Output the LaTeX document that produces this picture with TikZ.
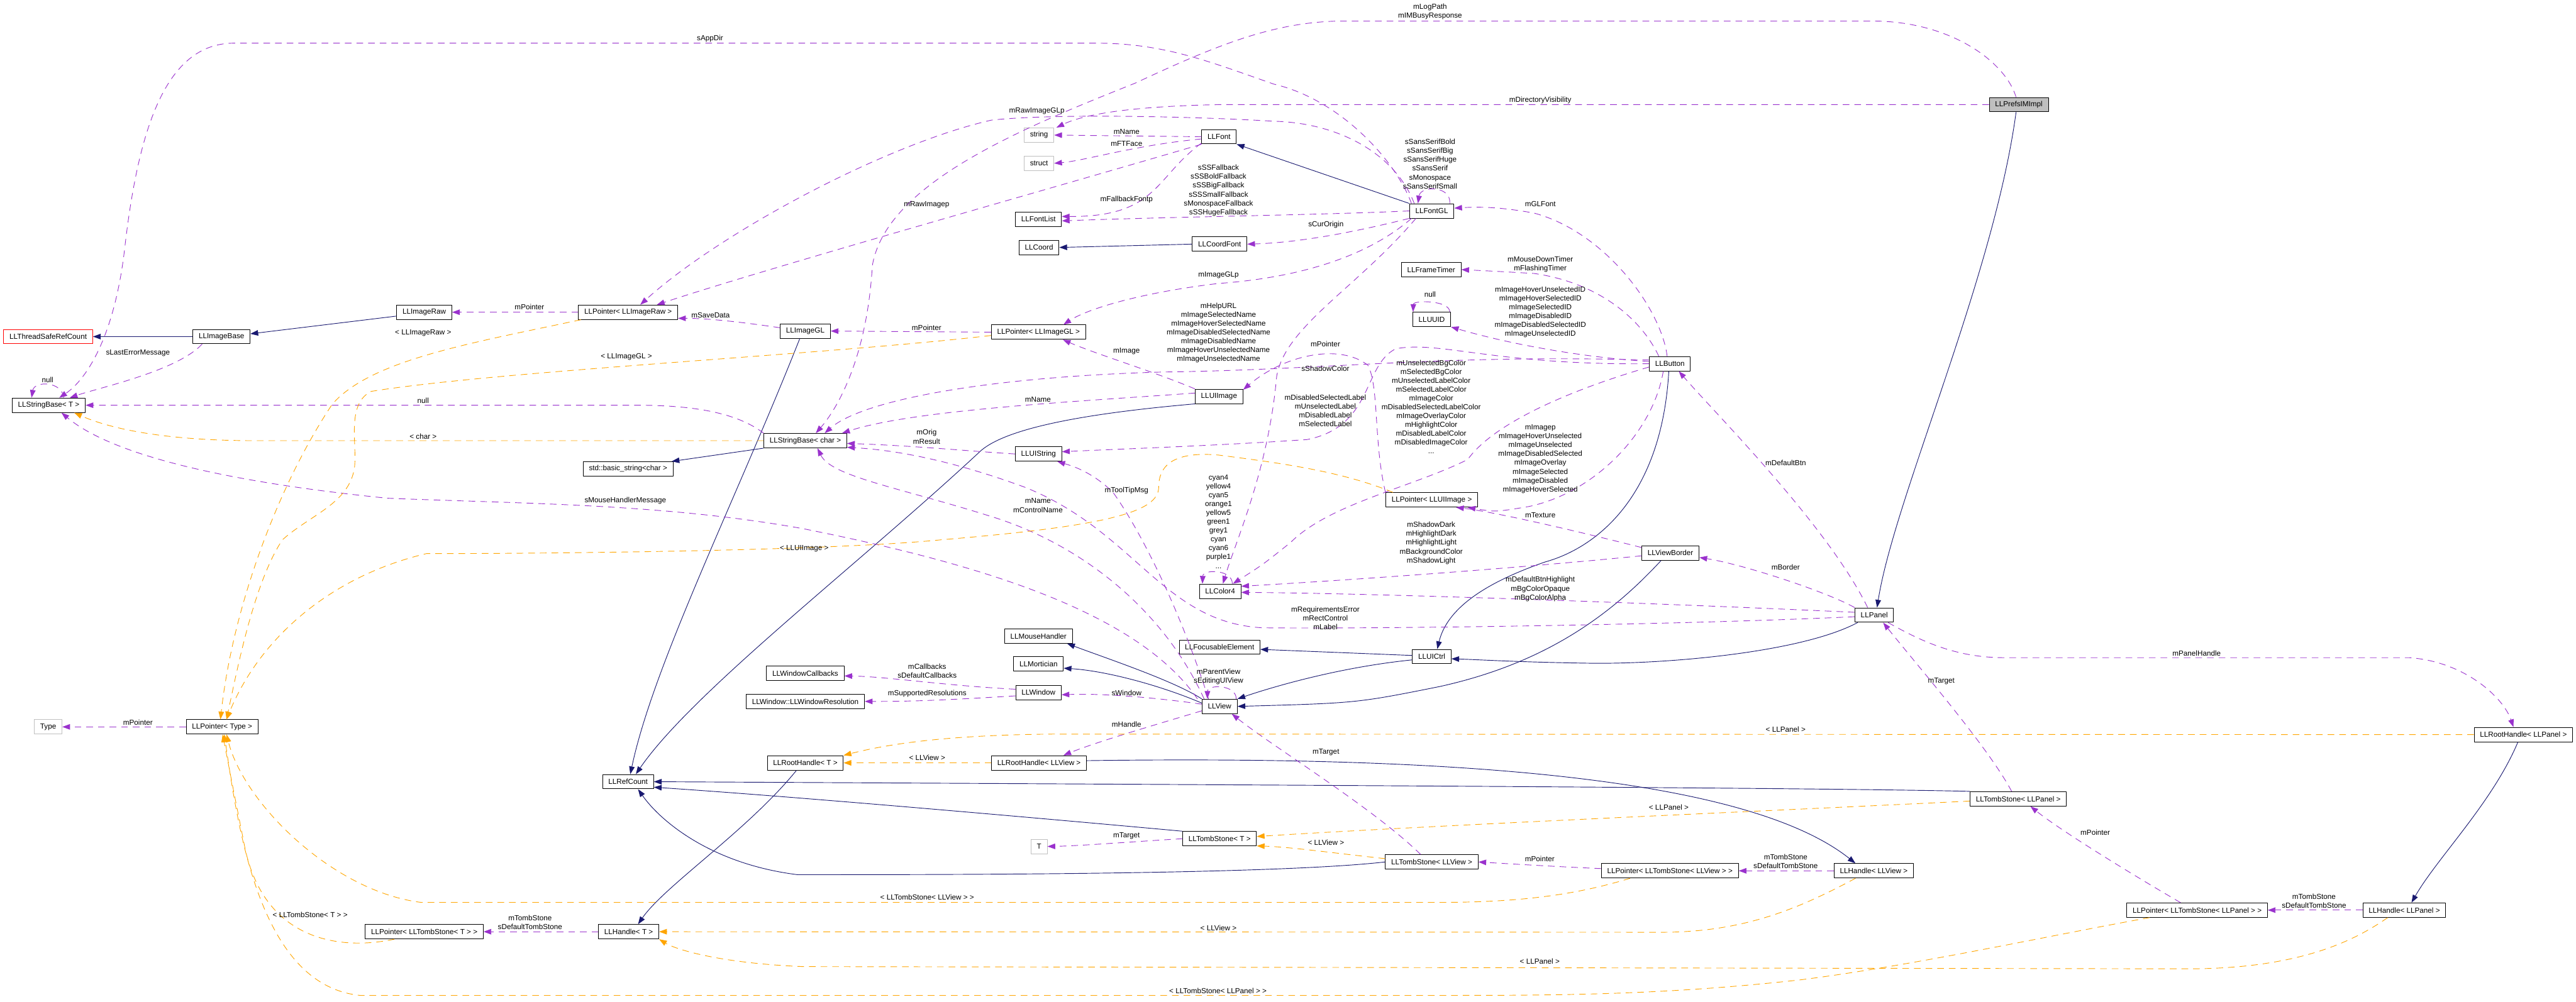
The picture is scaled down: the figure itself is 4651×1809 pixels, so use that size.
\documentclass[tikz,border=0pt]{standalone}
\usepackage{fontspec}
\setmainfont{Liberation Sans}
\usepackage{xcolor}
\definecolor{dxblue}{HTML}{191970}
\definecolor{dxpurple}{HTML}{9A32CD}
\definecolor{dxorange}{HTML}{FFA500}
\definecolor{dxgray}{HTML}{BFBFBF}
\definecolor{dxred}{HTML}{FF0000}
\usepackage{tikz}
\usetikzlibrary{arrows.meta,positioning}
\newcommand{\dxfont}{\fontsize{13.3}{16}\selectfont}
\tikzset{
  >={Triangle[length=14pt,width=10pt]},
  every picture/.style={line join=round},
  cls/.style={draw=black, line width=1.1pt, fill=white, minimum height=26pt,
    inner xsep=10.5pt, inner ysep=0pt, font=\dxfont},
  undoc/.style={cls, draw=dxgray},
  lbl/.style={font=\dxfont, inner sep=0pt, align=center},
  inh/.style={dxblue, line width=1.05pt, ->},
  use/.style={dxpurple, line width=1.05pt, dash pattern=on 12pt off 9pt, ->},
  tmpl/.style={dxorange, line width=1.05pt, dash pattern=on 12pt off 9pt, ->},
}

\begin{document}
\begin{tikzpicture}[x=1pt, y=-1pt]
\useasboundingbox (0,0) rectangle (4651,1809);

% ------------------------------------------------------------------ classes
\node[cls, fill=dxgray] (prefs) at (3645,189) {LLPrefsIMImpl};
\node[cls, draw=dxred] (tsrc) at (87,608) {LLThreadSafeRefCount};
\node[cls] (imgbase) at (400,608) {LLImageBase};
\node[cls] (imgraw) at (766,564) {LLImageRaw};
\node[cls] (ptrraw) at (1134,564) {LLPointer< LLImageRaw >};
\node[cls] (imggl) at (1454,598) {LLImageGL};
\node[cls] (ptrgl) at (1875,600) {LLPointer< LLImageGL >};
\node[undoc] (str) at (1876,244) {string};
\node[undoc] (strct) at (1876,295) {struct};
\node[cls] (font) at (2201,247) {LLFont};
\node[cls] (fontlist) at (1875,396) {LLFontList};
\node[cls] (coord) at (1876,447) {LLCoord};
\node[cls] (coordfont) at (2202,441) {LLCoordFont};
\node[cls] (fontgl) at (2585,381) {LLFontGL};
\node[cls] (frametimer) at (2584,487) {LLFrameTimer};
\node[cls] (uuid) at (2585,577) {LLUUID};
\node[cls] (sbT) at (88,732) {LLStringBase< T >};
\node[cls] (basicstr) at (1134,847) {std::basic\_string<char >};
\node[cls] (sbchar) at (1454,796) {LLStringBase< char >};
\node[cls] (uiimage) at (2201,716) {LLUIImage};
\node[cls] (uistring) at (1875,820) {LLUIString};
\node[cls] (color4) at (2203,1068) {LLColor4};
\node[cls] (mouse) at (1875,1149) {LLMouseHandler};
\node[cls] (focus) at (2202,1169) {LLFocusableElement};
\node[cls] (mortician) at (1875,1199) {LLMortician};
\node[cls] (wincb) at (1454,1216) {LLWindowCallbacks};
\node[cls] (button) at (3015,657) {LLButton};
\node[cls] (ptrui) at (2585,903) {LLPointer< LLUIImage >};
\node[cls] (border) at (3016,999) {LLViewBorder};
\node[cls] (panel) at (3384,1111) {LLPanel};
\node[cls] (uictrl) at (2585,1186) {LLUICtrl};
\node[cls] (window) at (1875,1251) {LLWindow};
\node[cls] (winres) at (1454,1267) {LLWindow::LLWindowResolution};
\node[cls] (view) at (2202,1276) {LLView};
\node[cls] (rhT) at (1454,1378) {LLRootHandle< T >};
\node[cls] (rhview) at (1876,1378) {LLRootHandle< LLView >};
\node[cls] (refcount) at (1134,1412) {LLRefCount};
\node[cls] (tombT) at (2202,1515) {LLTombStone< T >};
\node[undoc] (T) at (1876,1529) {T};
\node[undoc] (type) at (87,1313) {Type};
\node[cls] (ptrtype) at (401,1313) {LLPointer< Type >};
\node[cls] (ptrtombT) at (766,1683) {LLPointer< LLTombStone< T > >};
\node[cls] (handleT) at (1135,1683) {LLHandle< T >};
\node[cls] (tombview) at (2585,1557) {LLTombStone< LLView >};
\node[cls] (ptrtombview) at (3015,1573) {LLPointer< LLTombStone< LLView > >};
\node[cls] (handleview) at (3383,1573) {LLHandle< LLView >};
\node[cls] (rhpanel) at (4556,1327) {LLRootHandle< LLPanel >};
\node[cls] (tombpanel) at (3644,1443) {LLTombStone< LLPanel >};
\node[cls] (ptrtombpanel) at (3967,1644) {LLPointer< LLTombStone< LLPanel > >};
\node[cls] (handlepanel) at (4341,1644) {LLHandle< LLPanel >};

% ------------------------------------------------------------------ inheritance
\draw[inh] (imgbase.west) -- (tsrc.east);
\draw[inh] ([yshift=-7pt]imgraw.west) -- ([yshift=5pt]imgbase.east);
\draw[inh] (fontgl.north west) -- (font.south east);
\draw[inh] (coordfont.west) -- (coord.east);
\draw[inh] ([xshift=-10pt]imggl.south) .. controls (1330,900) and (1180,1200) .. ([xshift=4pt]refcount.north);
\draw[inh] (uiimage.south west) .. controls (1980,745) and (1820,770) .. (1770,815)
  .. controls (1550,1020) and (1250,1250) .. ([xshift=14pt]refcount.north);
\draw[inh] (sbchar.south west) -- ([xshift=-3pt]basicstr.north east);
\draw[inh] (tombT.north west) .. controls (1900,1480) and (1450,1440) .. ([yshift=-10pt]refcount.east);
\draw[inh] (tombpanel.north west) .. controls (3300,1423) and (2300,1418) .. (refcount.east);
\draw[inh] (tombview.west) .. controls (2300,1580) and (1700,1580) .. (1440,1580)
  .. controls (1280,1560) and (1190,1480) .. ([xshift=18pt]refcount.south);
\draw[inh] ([xshift=-16pt]rhT.south) .. controls (1350,1500) and (1200,1600) .. ([xshift=17pt]handleT.north);
\draw[inh] ([yshift=4pt]rhview.east) .. controls (2600,1365) and (3150,1400) .. ([xshift=-33pt]handleview.north);
\draw[inh] ([xshift=-10pt]rhpanel.south) .. controls (4500,1450) and (4400,1550) .. ([xshift=13pt]handlepanel.north);
\draw[inh] ([xshift=-5pt]prefs.south) .. controls (3600,500) and (3420,900) .. ([xshift=5pt]panel.north);
\draw[inh] ([xshift=-2pt]button.south) .. controls (3000,900) and (2880,990) .. (2790,1015)
  .. controls (2660,1060) and (2610,1110) .. ([xshift=10pt]uictrl.north);
\draw[inh] ([xshift=-30pt]panel.south) .. controls (3250,1180) and (3000,1200) .. (2870,1198)
  .. controls (2740,1196) and (2680,1192) .. ([yshift=-4pt]uictrl.east);
\draw[inh] ([yshift=2pt]uictrl.west) -- ([yshift=-4pt]focus.east);
\draw[inh] ([yshift=-6pt]uictrl.west) .. controls (2420,1205) and (2300,1240) .. (view.north east);
\draw[inh] ([xshift=-17pt]border.south) .. controls (2900,1120) and (2780,1200) .. (2600,1240)
  .. controls (2450,1270) .. (view.east);
\draw[inh] (view.north west) .. controls (2120,1230) and (2000,1190) .. ([xshift=-10pt]mouse.south east);
\draw[inh] ([yshift=6pt]view.west) .. controls (2100,1240) and (2000,1212) .. ([yshift=-8pt]mortician.east);

% ------------------------------------------------------------------ members, top
\draw[use] ([xshift=-5pt]prefs.north) .. controls (3620,110) and (3520,38) .. (3380,38) -- (2420,38)
  .. controls (2300,40) and (2200,80) .. (2050,150) .. controls (1850,230) and (1600,330) .. (1575,480)
  .. controls (1565,650) and (1510,740) .. ([xshift=19pt]sbchar.north);
\draw[use] (prefs.west) -- (2200,189) .. controls (2050,192) and (1960,205) .. ([xshift=4pt]str.north east);
\draw[use] ([xshift=4pt]fontgl.north west) .. controls (2520,290) and (2420,180) .. (2300,152)
  .. controls (2180,110) and (2100,78) .. (1979,78) -- (420,78)
  .. controls (300,80) and (250,230) .. (225,450) .. controls (205,620) and (150,690) .. ([xshift=19pt]sbT.north);
\draw[use] ([xshift=9pt]fontgl.north west) .. controls (2520,280) and (2420,222) .. (2300,219)
  .. controls (2150,210) and (1900,205) .. (1790,217) .. controls (1600,260) and (1300,420) .. ([xshift=22pt]ptrraw.north);
\draw[use] (font.south west) .. controls (1900,340) and (1400,480) .. ([xshift=52pt]ptrraw.north);
\draw[use] (font.west) -- (str.east);
\draw[use] ([yshift=-4pt]font.west) .. controls (2050,262) and (1960,290) .. (strct.east);
\draw[use] (font.-160) .. controls (2085,320) and (2090,392) .. ([yshift=5pt]fontlist.east);
\draw[use] (fontgl.west) .. controls (2400,388) and (2100,392) .. ([yshift=-3pt]fontlist.east);
\draw[use] ([xshift=-8pt]fontgl.north east) .. controls (2620,335) and (2565,335) .. ([xshift=-25pt]fontgl.north);
\draw[use] (fontgl.south west) .. controls (2450,418) and (2350,438) .. (coordfont.east);
\draw[use] ([xshift=4pt]fontgl.south west) .. controls (2450,480) and (2300,505) .. (2200,512)
  .. controls (2050,530) and (1960,560) .. ([xshift=45pt]ptrgl.north);
\draw[use] ([xshift=12pt]fontgl.south west) .. controls (2450,520) and (2320,590) .. (2305,680)
  .. controls (2290,850) and (2230,980) .. ([xshift=5pt]color4.north);

% ------------------------------------------------------------------ members, images and strings
\draw[use] (ptrraw.west) -- (imgraw.east);
\draw[use] ([yshift=6pt]imggl.west) .. controls (1340,582) and (1280,575) .. ([yshift=-11pt]ptrraw.east);
\draw[use] (ptrgl.west) -- (imggl.east);
\draw[use] (uiimage.north west) .. controls (2080,670) and (1980,640) .. ([xshift=44pt]ptrgl.south);
\draw[use] ([xshift=-35pt]imgbase.south) .. controls (320,670) and (180,700) .. ([xshift=38pt]sbT.north);
\draw[use] ([xshift=27pt]sbT.north) .. controls (112,688) and (62,688) .. ([xshift=-31pt]sbT.north);
\draw[use] (sbchar.north west) .. controls (1330,745) and (1250,732) .. (1150,732) -- (sbT.east);
\draw[use] ([xshift=-40pt]view.north) .. controls (2050,1100) and (1750,1015) .. (1450,955)
  .. controls (1200,910) and (950,910) .. (700,900) .. controls (400,870) and (200,820) .. ([xshift=23pt]sbT.south);
\draw[use] ([yshift=6pt]uiimage.west) .. controls (1950,725) and (1650,740) .. ([xshift=-9pt]sbchar.north east);
\draw[use] (button.170) .. controls (2600,640) and (2400,668) .. (2100,672)
  .. controls (1800,680) and (1560,720) .. ([xshift=35pt]sbchar.north);
\draw[use] (uistring.west) .. controls (1750,815) and (1650,805) .. ([yshift=-5pt]sbchar.east);
\draw[use] ([xshift=-28pt]view.north) .. controls (2100,1100) and (1950,980) .. (1780,930)
  .. controls (1620,880) and (1500,860) .. ([xshift=22pt]sbchar.south);
\draw[use] ([xshift=-20pt]view.north) .. controls (2130,1100) and (2060,960) .. (2010,890)
  .. controls (1970,850) and (1930,840) .. ([xshift=34pt]uistring.south);
\draw[use] ([yshift=-3pt]panel.west) .. controls (3000,1130) and (2450,1136) .. (2280,1134)
  .. controls (2100,1125) and (2050,960) .. (1850,880) .. controls (1700,825) and (1600,812) .. ([yshift=-12pt]sbchar.east);

% ------------------------------------------------------------------ members, button and panel
\draw[use] (button.west) .. controls (2700,660) and (2600,615) .. (2520,630)
  .. controls (2460,660) and (2480,770) .. (2360,794) .. controls (2200,805) and (2000,812) .. ([yshift=4pt]uistring.east);
\draw[use] ([xshift=-5pt]button.north) .. controls (3000,560) and (2900,420) .. (2770,385)
  .. controls (2700,372) and (2660,374) .. ([yshift=5pt]fontgl.east);
\draw[use] ([xshift=-20pt]button.north) .. controls (2960,570) and (2880,510) .. (2770,494)
  .. controls (2700,490) .. (frametimer.east);
\draw[use] ([yshift=4pt]button.west) .. controls (2850,645) and (2720,620) .. (uuid.south east);
\draw[use] ([xshift=-2pt]uuid.north east) .. controls (2617,542) and (2552,542) .. ([xshift=1pt]uuid.north west);
\draw[use] ([yshift=-6pt]button.west) .. controls (2850,700) and (2700,760) .. (2650,830)
  .. controls (2550,880) and (2400,910) .. (2330,980) .. controls (2280,1020) .. ([xshift=23pt]color4.north);
\draw[use] (ptrui.north west) .. controls (2480,800) and (2490,700) .. (2470,660)
  .. controls (2420,620) and (2320,640) .. ([yshift=12pt]uiimage.east);
\draw[use] ([yshift=10pt]border.west) .. controls (2850,960) and (2700,925) .. ([xshift=44pt]ptrui.south);
\draw[use] ([xshift=-12pt]button.south) .. controls (2985,780) and (2880,890) .. (2760,915)
  .. controls (2700,925) .. ([xshift=65pt]ptrui.south);
\draw[use] ([xshift=-12pt]panel.north) .. controls (3300,950) and (3100,750) .. ([xshift=16pt]button.south);
\draw[use] (panel.north west) .. controls (3300,1070) and (3150,1020) .. ([yshift=-8pt]border.east);
\draw[use] ([yshift=-5pt]border.west) .. controls (2700,1030) and (2400,1050) .. ([yshift=9pt]color4.east);
\draw[use] ([yshift=5pt]panel.west) .. controls (3000,1090) and (2500,1072) .. ([yshift=-2pt]color4.east);
\draw[use] ([xshift=22pt]color4.north) .. controls (2225,1028) and (2172,1028) .. ([xshift=-32pt]color4.north);
\draw[use] ([xshift=25pt]panel.south) .. controls (3480,1165) and (3540,1188) .. (3620,1188) -- (4350,1188)
  .. controls (4450,1195) and (4520,1260) .. ([xshift=-18pt]rhpanel.north);
\draw[use] ([xshift=-12pt]tombpanel.north) .. controls (3590,1350) and (3460,1200) .. ([xshift=16pt]panel.south);

% ------------------------------------------------------------------ members, view and handles
\draw[use] ([yshift=4pt]view.west) .. controls (2100,1262) and (2000,1252) .. ([yshift=-4pt]window.east);
\draw[use] ([yshift=6pt]window.west) .. controls (1700,1238) and (1600,1222) .. ([yshift=-5pt]wincb.east);
\draw[use] ([yshift=-6pt]window.west) .. controls (1700,1265) and (1650,1267) .. (winres.east);
\draw[use] ([xshift=30pt]view.north) .. controls (2232,1236) and (2180,1236) .. ([xshift=-22pt]view.north);
\draw[use] ([yshift=-8pt]view.west) .. controls (2100,1305) and (1980,1340) .. ([xshift=44pt]rhview.north);
\draw[use] ([xshift=-20pt]tombview.north) .. controls (2480,1460) and (2300,1350) .. ([xshift=22pt]view.south);
\draw[use] (tombT.west) .. controls (2050,1520) and (1950,1528) .. (T.east);
\draw[use] ([yshift=4pt]ptrtombview.west) .. controls (2800,1565) and (2720,1560) .. (tombview.east);
\draw[use] (handleview.west) -- (ptrtombview.east);
\draw[use] (handleT.west) -- (ptrtombT.east);
\draw[use] (ptrtype.west) -- (type.east);
\draw[use] ([xshift=-30pt]ptrtombpanel.north) .. controls (3850,1580) and (3720,1500) .. ([xshift=22pt]tombpanel.south);
\draw[use] (handlepanel.west) -- (ptrtombpanel.east);

% ------------------------------------------------------------------ template instances
\draw[tmpl] ([xshift=-70pt]ptrui.north) .. controls (2420,850) and (2300,835) .. (2200,822)
  .. controls (2120,815) and (2092,840) .. (2092,880) .. controls (2092,925) and (2000,950) .. (1700,975)
  .. controls (1500,995) and (1000,1000) .. (770,1000) .. controls (600,1040) and (470,1150) .. ([xshift=8pt]ptrtype.north);
\draw[tmpl] ([xshift=5pt]ptrraw.south west) .. controls (850,620) and (670,650) .. (600,730)
  .. controls (500,880) and (420,1100) .. ([xshift=-3pt]ptrtype.north);
\draw[tmpl] ([yshift=-6pt]ptrgl.west) .. controls (1500,640) and (900,670) .. (670,707)
  .. controls (625,730) and (645,800) .. (640,845) .. controls (630,910) and (560,930) .. (510,975)
  .. controls (460,1050) and (430,1200) .. ([xshift=8pt]ptrtype.north);
\draw[tmpl] (sbchar.west) -- (460,796) .. controls (300,796) and (200,775) .. ([xshift=46pt]sbT.south);
\draw[tmpl] (rhview.west) -- (rhT.east);
\draw[tmpl] (rhpanel.west) -- (1900,1326) .. controls (1700,1328) and (1600,1345) .. (rhT.north east);
\draw[tmpl] ([yshift=6pt]tombview.west) .. controls (2400,1540) and (2330,1530) .. ([yshift=-13pt]tombT.east);
\draw[tmpl] ([yshift=-4pt]tombpanel.west) .. controls (3300,1460) and (2600,1490) .. ([yshift=4pt]tombT.east);
\draw[tmpl] ([xshift=-33pt]handleview.south) .. controls (3250,1640) and (3150,1684) .. (3000,1684) -- (handleT.east);
\draw[tmpl] ([xshift=-30pt]handlepanel.south) .. controls (4250,1700) and (4150,1750) .. (3950,1750) -- (1450,1746)
  .. controls (1300,1740) and (1220,1715) .. (handleT.south east);
\draw[tmpl] ([xshift=-54pt]ptrtombT.south) .. controls (600,1720) and (470,1690) .. (440,1520)
  .. controls (420,1420) .. ([xshift=1pt]ptrtype.south);
\draw[tmpl] ([xshift=-72pt]ptrtombview.south) .. controls (2850,1615) and (2750,1630) .. (2600,1630) -- (760,1630)
  .. controls (600,1610) and (440,1450) .. ([xshift=8pt]ptrtype.south);
\draw[tmpl] ([xshift=-86pt]ptrtombpanel.south) .. controls (3700,1690) and (3450,1745) .. (3250,1770)
  .. controls (3000,1798) and (2800,1798) .. (2600,1798) -- (650,1798)
  .. controls (470,1780) and (430,1500) .. ([xshift=4pt]ptrtype.south);

% ------------------------------------------------------------------ edge labels
\node[lbl] (l1) at (2582,21) {mLogPath\\mIMBusyResponse};
\node[lbl] (l2) at (2781,181) {mDirectoryVisibility};
\node[lbl] (l3) at (1282,70) {sAppDir};
\node[lbl] (l4) at (1872,200) {mRawImageGLp};
\node[lbl] (l5) at (2034,238) {mName};
\node[lbl] (l6) at (2034,260) {mFTFace};
\node[lbl] (l7) at (1673,370) {mRawImagep};
\node[lbl] (l8) at (2034,360) {mFallbackFontp};
\node[lbl] (l9) at (2200,344) {sSSFallback\\sSSBoldFallback\\sSSBigFallback\\sSSSmallFallback\\sMonospaceFallback\\sSSHugeFallback};
\node[lbl] (l10) at (2582,296) {sSansSerifBold\\sSansSerifBig\\sSansSerifHuge\\sSansSerif\\sMonospace\\sSansSerifSmall};
\node[lbl] (l11) at (2781,368) {mGLFont};
\node[lbl] (l12) at (2394,406) {sCurOrigin};
\node[lbl] (l13) at (2200,497) {mImageGLp};
\node[lbl] (l14) at (2781,477) {mMouseDownTimer\\mFlashingTimer};
\node[lbl] (l15) at (2781,564) {mImageHoverUnselectedID\\mImageHoverSelectedID\\mImageSelectedID\\mImageDisabledID\\mImageDisabledSelectedID\\mImageUnselectedID};
\node[lbl] (l16) at (2582,532) {null};
\node[lbl] (l17) at (1283,569) {mSaveData};
\node[lbl] (l18) at (956,555) {mPointer};
\node[lbl] (l19) at (1673,592) {mPointer};
\node[lbl] (l20) at (764,601) {< LLImageRaw >};
\node[lbl] (l21) at (2200,601) {mHelpURL\\mImageSelectedName\\mImageHoverSelectedName\\mImageDisabledSelectedName\\mImageDisabledName\\mImageHoverUnselectedName\\mImageUnselectedName};
\node[lbl] (l22) at (249,638) {sLastErrorMessage};
\node[lbl] (l23) at (86,686) {null};
\node[lbl] (l24) at (1131,645) {< LLImageGL >};
\node[lbl] (l25) at (2393,621) {mPointer};
\node[lbl] (l26) at (2393,666) {sShadowColor};
\node[lbl] (l27) at (2034,634) {mImage};
\node[lbl] (l28) at (1874,722) {mName};
\node[lbl] (l29) at (2393,742) {mDisabledSelectedLabel\\mUnselectedLabel\\mDisabledLabel\\mSelectedLabel};
\node[lbl] (l30) at (764,724) {null};
\node[lbl] (l31) at (2584,735) {mUnselectedBgColor\\mSelectedBgColor\\mUnselectedLabelColor\\mSelectedLabelColor\\mImageColor\\mDisabledSelectedLabelColor\\mImageOverlayColor\\mHighlightColor\\mDisabledLabelColor\\mDisabledImageColor\\...};
\node[lbl] (l32) at (2781,829) {mImagep\\mImageHoverUnselected\\mImageUnselected\\mImageDisabledSelected\\mImageOverlay\\mImageSelected\\mImageDisabled\\mImageHoverSelected};
\node[lbl] (l33) at (764,788) {< char >};
\node[lbl] (l34) at (1673,789) {mOrig\\mResult};
\node[lbl] (l35) at (3224,836) {mDefaultBtn};
\node[lbl] (l36) at (2034,886) {mToolTipMsg};
\node[lbl] (l37) at (1874,913) {mName\\mControlName};
\node[lbl] (l38) at (1129,904) {sMouseHandlerMessage};
\node[lbl] (l39) at (2200,942) {cyan4\\yellow4\\cyan5\\orange1\\yellow5\\green1\\grey1\\cyan\\cyan6\\purple1\\...};
\node[lbl] (l40) at (2781,931) {mTexture};
\node[lbl] (l41) at (2584,981) {mShadowDark\\mHighlightDark\\mHighlightLight\\mBackgroundColor\\mShadowLight};
\node[lbl] (l42) at (1452,991) {< LLUIImage >};
\node[lbl] (l43) at (3224,1025) {mBorder};
\node[lbl] (l44) at (2781,1064) {mDefaultBtnHighlight\\mBgColorOpaque\\mBgColorAlpha};
\node[lbl] (l45) at (2393,1117) {mRequirementsError\\mRectControl\\mLabel};
\node[lbl] (l46) at (3966,1180) {mPanelHandle};
\node[lbl] (l47) at (1674,1212) {mCallbacks\\sDefaultCallbacks};
\node[lbl] (l48) at (2200,1222) {mParentView\\sEditingUIView};
\node[lbl] (l49) at (3505,1230) {mTarget};
\node[lbl] (l50) at (2034,1252) {sWindow};
\node[lbl] (l51) at (1674,1253) {mSupportedResolutions};
\node[lbl] (l52) at (249,1305) {mPointer};
\node[lbl] (l53) at (2034,1308) {mHandle};
\node[lbl] (l54) at (3224,1318) {< LLPanel >};
\node[lbl] (l55) at (2394,1359) {mTarget};
\node[lbl] (l56) at (1674,1369) {< LLView >};
\node[lbl] (l57) at (3013,1458) {< LLPanel >};
\node[lbl] (l58) at (3783,1504) {mPointer};
\node[lbl] (l59) at (2034,1510) {mTarget};
\node[lbl] (l60) at (2394,1522) {< LLView >};
\node[lbl] (l61) at (3224,1556) {mTombStone\\sDefaultTombStone};
\node[lbl] (l62) at (2780,1551) {mPointer};
\node[lbl] (l63) at (4178,1627) {mTombStone\\sDefaultTombStone};
\node[lbl] (l64) at (1674,1621) {< LLTombStone< LLView > >};
\node[lbl] (l65) at (560,1652) {< LLTombStone< T > >};
\node[lbl] (l66) at (957,1666) {mTombStone\\sDefaultTombStone};
\node[lbl] (l67) at (2200,1676) {< LLView >};
\node[lbl] (l68) at (2780,1736) {< LLPanel >};
\node[lbl] (l69) at (2199,1790) {< LLTombStone< LLPanel > >};
\end{tikzpicture}
\end{document}
